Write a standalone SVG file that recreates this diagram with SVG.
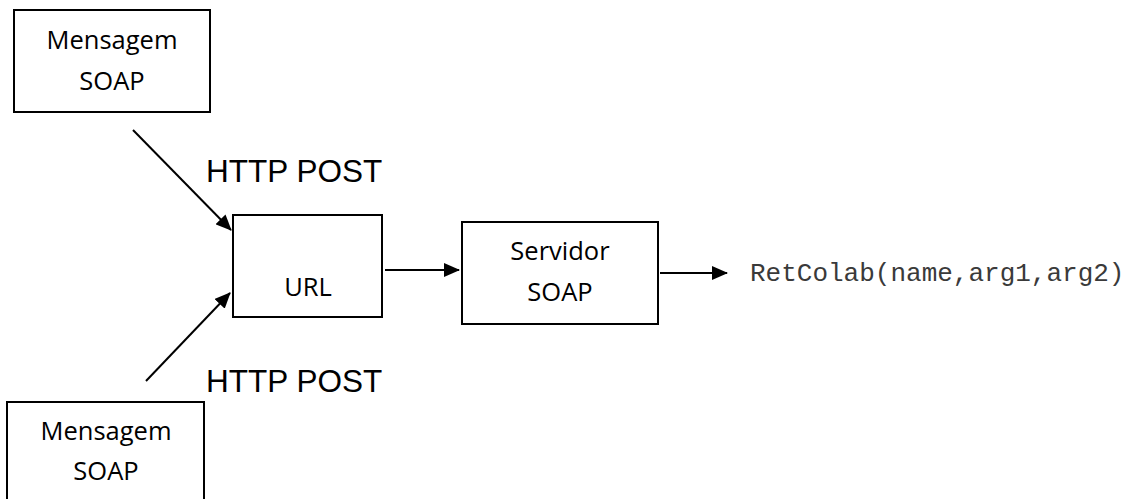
<svg xmlns="http://www.w3.org/2000/svg" width="1133" height="499" viewBox="0 0 1133 499">
  <style>
    .box { fill: #ffffff; stroke: #000000; stroke-width: 2; }
    .lbl { font-family: "Open Sans", "Liberation Sans", sans-serif; font-size: 25.5px; fill: #000000; text-anchor: middle; }
    .http { font-family: "Liberation Sans", Arial, sans-serif; font-size: 31.5px; fill: #000000; }
    .code { font-family: "Liberation Mono", "Courier New", monospace; font-size: 26px; fill: #3a3a3a; }
    .edge { stroke: #000000; stroke-width: 2; fill: none; marker-end: url(#arrow); }
  </style>
  <defs>
    <marker id="arrow" viewBox="0 0 16 14" refX="15" refY="7" markerWidth="16" markerHeight="14" markerUnits="userSpaceOnUse" orient="auto">
      <path d="M0,0 L16,7 L0,14 Z" fill="#000000"/>
    </marker>
  </defs>

  <g id="msg-top">
    <rect class="box" x="14" y="10" width="196" height="102"/>
    <text class="lbl" x="112" y="49">Mensagem</text>
    <text class="lbl" x="112" y="90">SOAP</text>
  </g>

  <g id="msg-bottom">
    <rect class="box" x="7" y="402" width="197" height="110"/>
    <text class="lbl" x="106" y="440">Mensagem</text>
    <text class="lbl" x="106" y="480">SOAP</text>
  </g>

  <g id="url">
    <rect class="box" x="233" y="215" width="149" height="102"/>
    <text class="lbl" x="308" y="296">URL</text>
  </g>

  <g id="servidor">
    <rect class="box" x="462" y="222" width="196" height="102"/>
    <text class="lbl" x="560" y="260">Servidor</text>
    <text class="lbl" x="560" y="301">SOAP</text>
  </g>

  <g id="result">
    <text class="code" x="750" y="281">RetColab(name,arg1,arg2)</text>
  </g>

  <g id="labels">
    <text class="http" x="206" y="182">HTTP POST</text>
    <text class="http" x="206" y="392">HTTP POST</text>
  </g>

  <g id="connectors">
    <line class="edge" x1="133" y1="130" x2="231" y2="230"/>
    <line class="edge" x1="146" y1="381" x2="230" y2="293"/>
    <line class="edge" x1="385" y1="270" x2="459" y2="270"/>
    <line class="edge" x1="660" y1="273" x2="727" y2="273"/>
  </g>
</svg>
